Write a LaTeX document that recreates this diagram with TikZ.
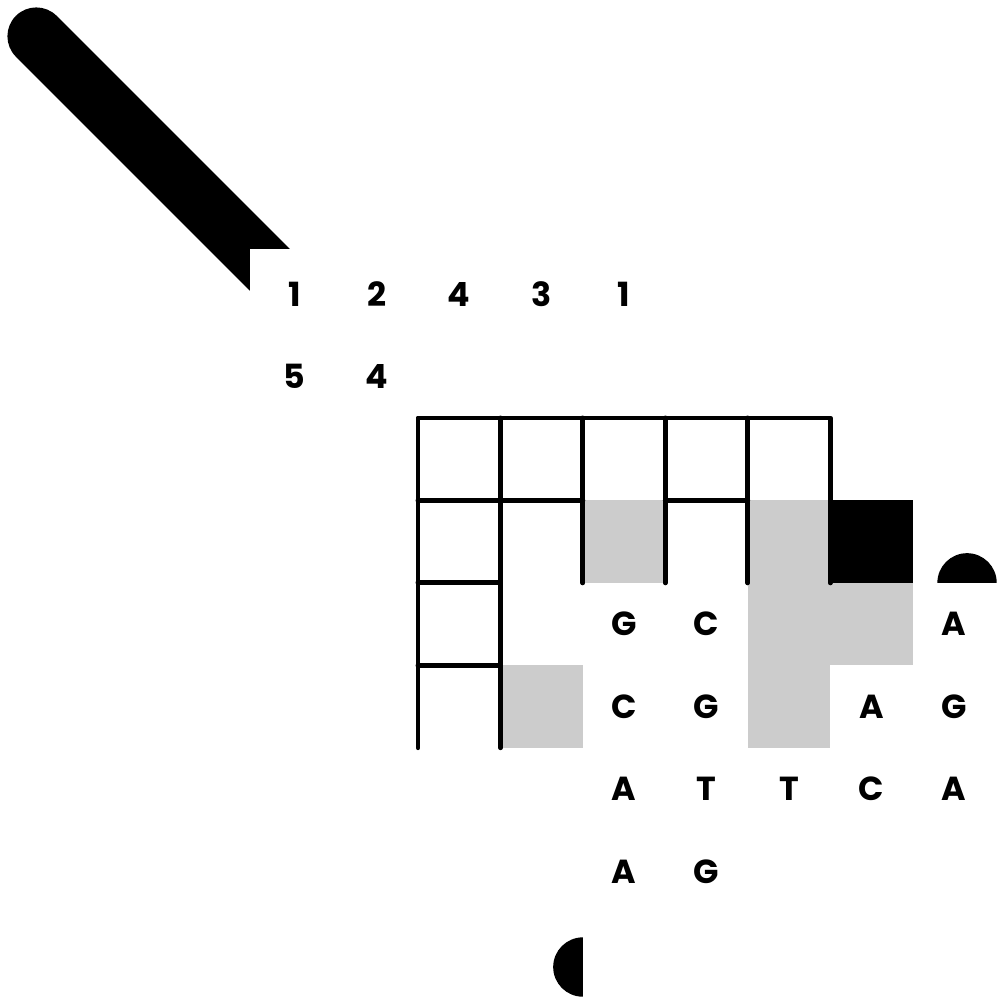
\documentclass[tikz,border=0pt]{standalone}
\usepackage{fontspec}
\setmainfont{Poppins}
\usepackage{tikz}

\tikzset{
  lbl/.style={font=\bfseries\fontsize{11.5}{12}\selectfont},
  wall/.style={line width=1.7pt,line cap=round,line join=round}
}

\begin{document}
\begin{tikzpicture}
	\useasboundingbox (-0.07,0.07) rectangle (12.06,-12.06);
	% shaded cells
	\fill[black!20] (7,-6) rectangle (8,-7);
	\fill[black!20] (6,-8) rectangle (7,-9);
	\fill[black!20] (9,-6) rectangle (10,-9);
	\fill[black!20] (10,-7) rectangle (11,-8);
	\fill (10,-6) rectangle (11,-7);
	% grid
	\draw[wall] (5,-9) -- (5,-5) -- (10,-5) -- (10,-7);
	\draw[wall] (6,-5) -- (6,-9);
	\foreach \x in {7,8,9}{
		\draw[wall] (\x,-5) -- (\x,-7);
	}
	\draw[wall] (5,-6) -- (7,-6);
	\draw[wall] (8,-6) -- (9,-6);
	\draw[wall] (5,-7) -- (6,-7);
	\draw[wall] (5,-8) -- (6,-8);
	% pen
	\fill (0.6175,-0.1225) -- (3.445,-2.95) -- (2.96,-2.95) -- (2.96,-3.455)
		-- (0.1225,-0.6175) arc[start angle=225,end angle=45,radius=0.35] -- cycle;
	% half discs
	\fill (11.3,-7) arc[start angle=180,end angle=0,radius=0.36] -- cycle;
	\fill (7,-11.3) arc[start angle=90,end angle=270,radius=0.36] -- cycle;
	% numbers
	\foreach \x/\t [count=\i] in {3.5/1,4.5/2,5.5/4,6.5/3,7.5/1}{
		\node[lbl] (top-\i) at (\x,-3.5) {\t};
	}
	\foreach \x/\t [count=\i] in {3.5/5,4.5/4}{
		\node[lbl] (side-\i) at (\x,-4.5) {\t};
	}
	% letters
	\foreach \x/\y/\t [count=\i] in {7.5/7.5/G,8.5/7.5/C,11.5/7.5/A,
		7.5/8.5/C,8.5/8.5/G,10.5/8.5/A,11.5/8.5/G,
		7.5/9.5/A,8.5/9.5/T,9.5/9.5/T,10.5/9.5/C,11.5/9.5/A,
		7.5/10.5/A,8.5/10.5/G}{
		\node[lbl] (base-\i) at (\x,-\y) {\t};
	}
\end{tikzpicture}
\end{document}
